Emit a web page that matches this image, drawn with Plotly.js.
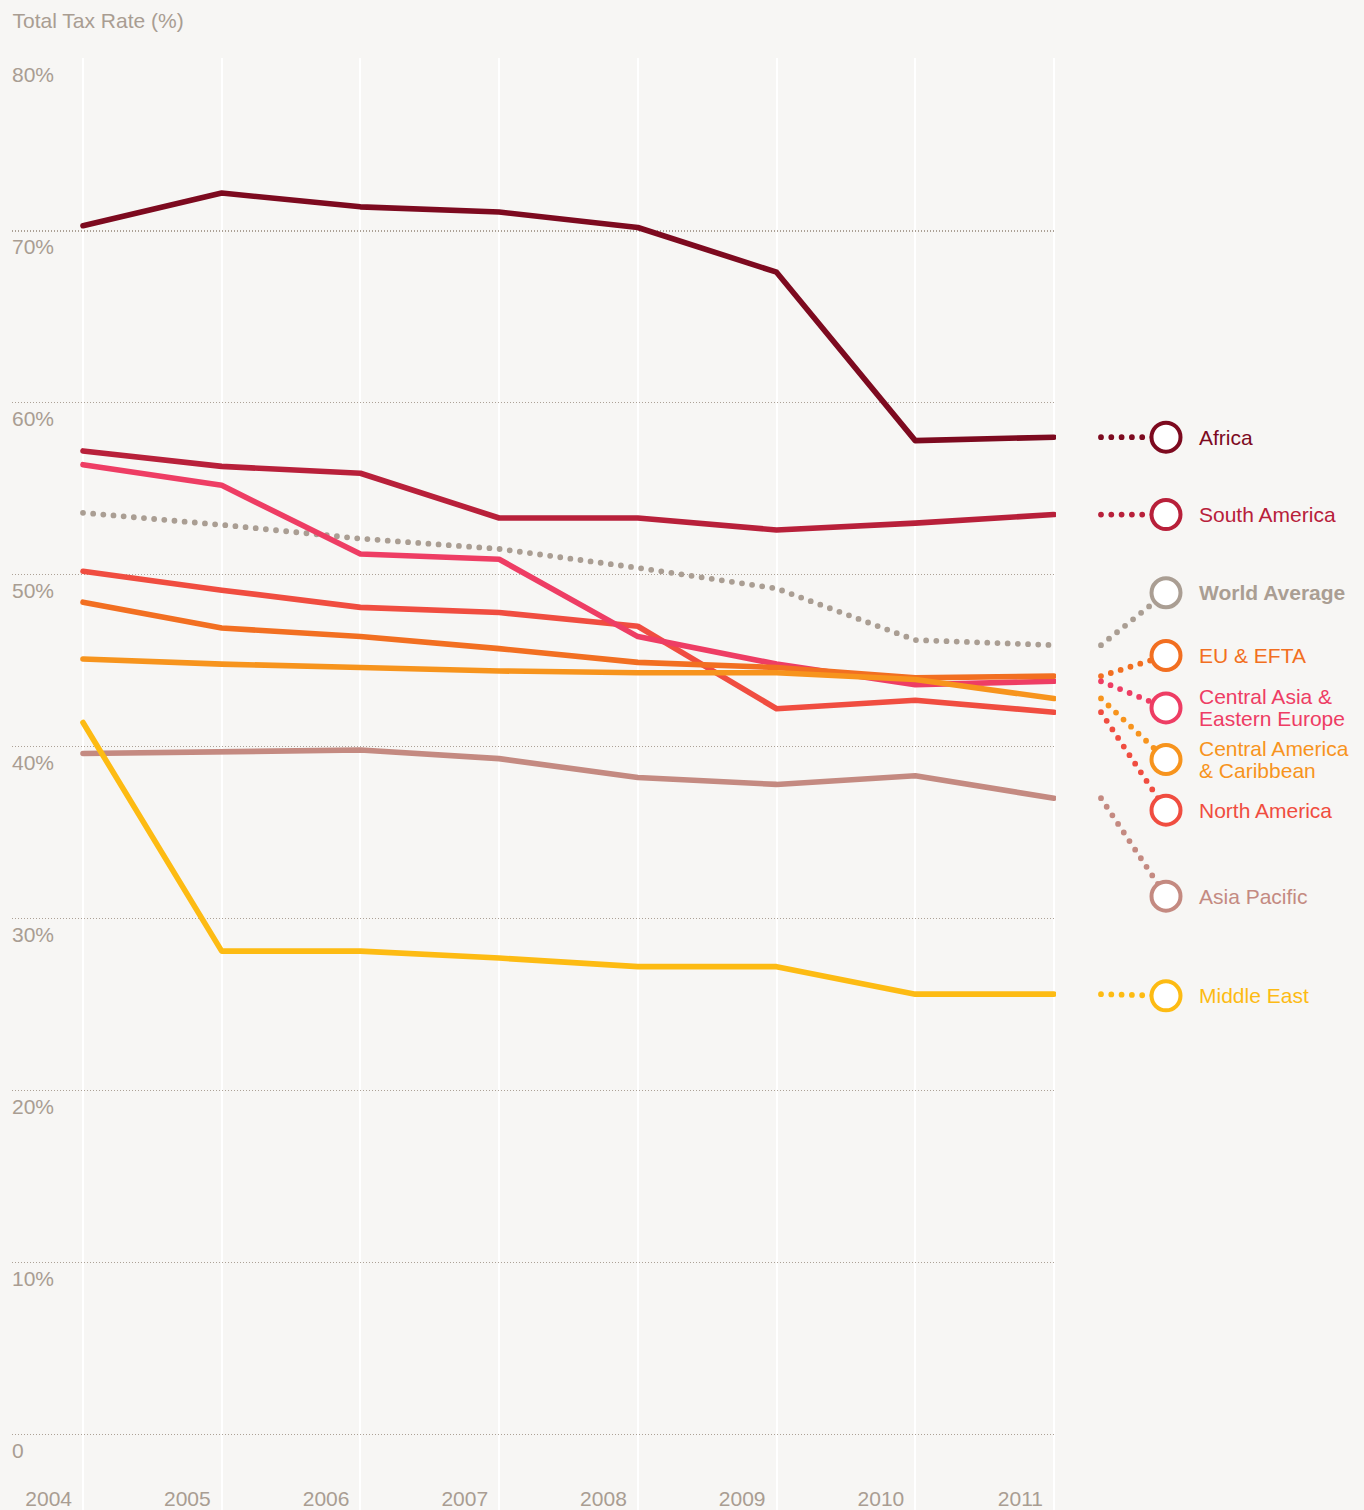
<!DOCTYPE html>
<html>
<head>
<meta charset="utf-8">
<script src="https://cdn.plot.ly/plotly-3.0.1.min.js"></script>
<style>
  html, body { margin: 0; padding: 0; background: #f7f6f4; }
  #chart { width: 1364px; height: 1510px; }
  .scatterlayer .js-line { stroke-linecap: round; stroke-linejoin: round; }
</style>
</head>
<body>
<div id="chart"></div>
<script>
// ---------- data ----------
const years = [2004, 2005, 2006, 2007, 2008, 2009, 2010, 2011];
const yearLabels = ['2004', '2005', '2006', '2007', '2008', '2009', '2010', '2011'];
const yTickVals = [0, 10, 20, 30, 40, 50, 60, 70, 80];
const yTickText = ['0', '10%', '20%', '30%', '40%', '50%', '60%', '70%', '80%'];

const africa         = [70.3, 72.2, 71.4, 71.1, 70.2, 67.6, 57.8, 58.0];
const southAmerica   = [57.2, 56.3, 55.9, 53.3, 53.3, 52.6, 53.0, 53.5];
const worldAverage   = [53.6, 52.9, 52.1, 51.5, 50.4, 49.2, 46.2, 45.9];
const euEfta         = [48.4, 46.9, 46.4, 45.7, 44.9, 44.6, 44.0, 44.1];
const centralAsiaEE  = [56.4, 55.2, 51.2, 50.9, 46.4, 44.8, 43.6, 43.8];
const centralAmerica = [45.1, 44.8, 44.6, 44.4, 44.3, 44.3, 43.9, 42.8];
const northAmerica   = [50.2, 49.1, 48.1, 47.8, 47.0, 42.2, 42.7, 42.0];
const asiaPacific    = [39.6, 39.7, 39.8, 39.3, 38.2, 37.8, 38.3, 37.0];
const middleEast     = [41.4, 28.1, 28.1, 27.7, 27.2, 27.2, 25.6, 25.6];

const seriesNames = ['Africa', 'South America', 'World Average', 'EU & EFTA',
  'Central Asia &<br>Eastern Europe', 'Central America<br>& Caribbean',
  'North America', 'Asia Pacific', 'Middle East'];
const seriesValues = [africa, southAmerica, worldAverage, euEfta, centralAsiaEE,
  centralAmerica, northAmerica, asiaPacific, middleEast];

// ---------- layout / style (not data) ----------
const seriesColors = ['#7d0a1f', '#b8203a', '#aa9e93', '#f26f21', '#ee3d64',
  '#f7941d', '#f04d40', '#c48a81', '#fdbb13'];
const labelY = [58.0, 53.5, 48.95, 45.3, 42.25, 39.25, 36.3, 31.3, 25.5];
const drawOrder = [2, 0, 1, 6, 4, 3, 5, 7, 8];

const FONT = 'Liberation Sans, Arial, Helvetica, sans-serif';
const GREY = '#a99d92';
const BG = '#f7f6f4';
const W = 1364, H = 1510;
const mainRight = 1056;           // px where the main plot area ends
const leaderX = 1101 - mainRight; // in x2 pixel units
const circleX = 1166 - mainRight;
const textX = 1197 - mainRight;

const traces = [];
drawOrder.forEach(i => {
  const isAvg = i === 2;
  traces.push({
    type: 'scatter', mode: 'lines', x: years, y: seriesValues[i],
    xaxis: 'x', yaxis: 'y',
    line: { color: seriesColors[i], width: isAvg ? 5.8 : 5.6, dash: isAvg ? '0px,10.2px' : 'solid' },
    hoverinfo: 'skip', showlegend: false
  });
});
// leader lines from each series' last value to its label circle
seriesValues.forEach((vals, i) => {
  traces.push({
    type: 'scatter', mode: 'lines',
    x: [leaderX, circleX], y: [vals[vals.length - 1], labelY[i]],
    xaxis: 'x2', yaxis: 'y2',
    line: { color: seriesColors[i], width: 5.8, dash: '0px,10.3px' },
    hoverinfo: 'skip', showlegend: false
  });
});
traces.push({
  type: 'scatter', mode: 'markers',
  x: labelY.map(() => circleX), y: labelY,
  xaxis: 'x2', yaxis: 'y2',
  marker: { size: 29, color: '#ffffff', line: { width: 4, color: seriesColors } },
  hoverinfo: 'skip', showlegend: false, cliponaxis: false
});

const annotations = [];
seriesNames.forEach((name, i) => {
  const lines = name.split('<br>');
  lines.forEach((ln, k) => {
    const shift = lines.length === 1 ? 0 : (k === 0 ? 11 : -11);
    annotations.push({
      xref: 'x2', yref: 'y2', x: textX, y: labelY[i], yshift: shift,
      xanchor: 'left', yanchor: 'middle', showarrow: false,
      text: i === 2 ? '<b>' + ln + '</b>' : ln,
      font: { family: FONT, size: 21, color: seriesColors[i] }
    });
  });
});

const plotW = W - 12;
const mainFrac = (mainRight - 12) / plotW;
const pxPerYear = 138.71;
const x0 = 2004 - (83 - 12) / pxPerYear;
const x1 = x0 + (mainRight - 12) / pxPerYear;
const pxPerPct = 17.19;
const yTop = 80 + 1 / pxPerPct;
const yBot = yTop - (H - 58) / pxPerPct;

const layout = {
  width: W, height: H,
  paper_bgcolor: BG, plot_bgcolor: BG,
  margin: { l: 12, r: 0, t: 58, b: 0, pad: 0 },
  showlegend: false, hovermode: false,
  title: {
    text: 'Total Tax Rate (%)',
    x: 12.5 / W, xref: 'container', xanchor: 'left',
    y: 1 - 21 / H, yref: 'container', yanchor: 'middle',
    font: { family: FONT, size: 21, color: GREY }
  },
  xaxis: {
    domain: [0, mainFrac], range: [x0, x1],
    tickvals: years, ticktext: yearLabels,
    showgrid: true, gridcolor: '#ffffff', gridwidth: 2,
    zeroline: false, showline: false, ticks: '',
    ticklabelposition: 'inside left', ticklabelshift: -11, ticklabelstandoff: -6,
    tickfont: { family: FONT, size: 21, color: GREY },
    fixedrange: true
  },
  yaxis: {
    range: [yBot, yTop],
    tickvals: yTickVals, ticktext: yTickText,
    showgrid: true, gridcolor: '#aca196', gridwidth: 1.3, griddash: '1px,2px',
    zeroline: false, showline: false, ticks: '',
    ticklabelposition: 'inside', ticklabelshift: 16, ticklabelstandoff: -3,
    tickfont: { family: FONT, size: 21, color: GREY },
    fixedrange: true
  },
  xaxis2: { domain: [mainFrac, 1], range: [0, W - mainRight], visible: false, anchor: 'y2', fixedrange: true },
  yaxis2: { domain: [0, 1], range: [yBot, yTop], visible: false, anchor: 'x2', fixedrange: true },
  annotations: annotations
};

Plotly.newPlot('chart', traces, layout, { displayModeBar: false, staticPlot: true });
</script>
</body>
</html>
